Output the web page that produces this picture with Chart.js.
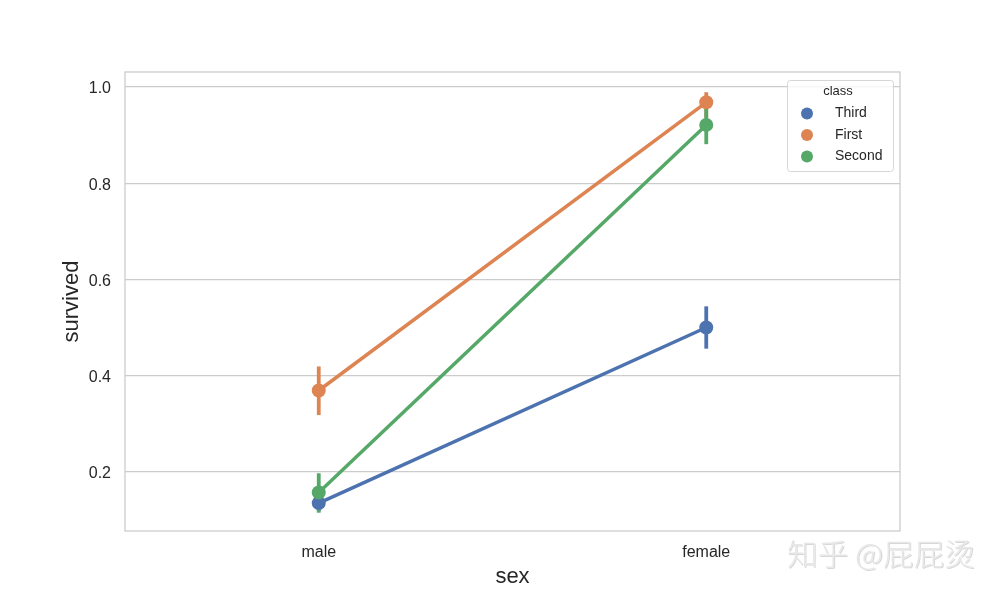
<!DOCTYPE html>
<html>
<head>
<meta charset="utf-8">
<script src="https://cdn.jsdelivr.net/npm/chart.js@4.4.0/dist/chart.umd.min.js"></script>
<style>
  html, body { margin: 0; padding: 0; background: #ffffff; }
  #wrap { width: 1000px; height: 597px; }
</style>
</head>
<body>
<div id="wrap"><canvas id="c" width="1000" height="597"></canvas></div>
<script>
// Survival rate by sex, split by passenger class (mean with 95% CI)
const categories = ['male', 'female'];
const classNames = ['Third', 'First', 'Second'];
const thirdMean  = [0.135, 0.500];
const firstMean  = [0.369, 0.968];
const secondMean = [0.157, 0.921];
const thirdLow   = [0.118, 0.456];
const thirdHigh  = [0.165, 0.544];
const firstLow   = [0.318, 0.936];
const firstHigh  = [0.419, 0.989];
const secondLow  = [0.115, 0.881];
const secondHigh = [0.197, 0.961];
const yTicks = [0.2, 0.4, 0.6, 0.8, 1.0];

const palette = ['#4c72b0', '#dd8452', '#55a868'];
const means = [thirdMean, firstMean, secondMean];
const lows  = [thirdLow, firstLow, secondLow];
const highs = [thirdHigh, firstHigh, secondHigh];

const FONT = "'Liberation Sans', Arial, sans-serif";
const TEXT = '#262626';

const datasets = classNames.map((name, i) => ({
  label: name,
  data: means[i],
  ciLow: lows[i],
  ciHigh: highs[i],
  borderColor: palette[i],
  backgroundColor: palette[i],
  pointBackgroundColor: palette[i],
  pointBorderColor: palette[i],
  pointRadius: 7,
  pointBorderWidth: 0,
  borderWidth: 3.5,
  tension: 0,
  order: classNames.length - i
}));

// confidence-interval bars, drawn under lines and markers
const errorBars = {
  id: 'errorBars',
  beforeDatasetsDraw(chart) {
    const ctx = chart.ctx;
    const xs = chart.scales.x, ys = chart.scales.y;
    ctx.save();
    chart.data.datasets.forEach(ds => {
      ctx.strokeStyle = ds.borderColor;
      ctx.lineWidth = 3.8;
      ctx.lineCap = 'butt';
      ds.data.forEach((v, j) => {
        const x = xs.getPixelForValue(j);
        ctx.beginPath();
        ctx.moveTo(x, ys.getPixelForValue(ds.ciLow[j]));
        ctx.lineTo(x, ys.getPixelForValue(ds.ciHigh[j]));
        ctx.stroke();
      });
    });
    ctx.restore();
  }
};

// frame around the plotting area
const frame = {
  id: 'frame',
  afterDatasetsDraw(chart) {
    const { ctx, chartArea: a } = chart;
    ctx.save();
    ctx.strokeStyle = '#cccccc';
    ctx.lineWidth = 1.3;
    ctx.strokeRect(a.left, a.top, a.right - a.left, a.bottom - a.top);
    ctx.restore();
  }
};

// legend box inside the plot, upper right
const legendBox = {
  id: 'legendBox',
  afterDraw(chart) {
    const ctx = chart.ctx;
    const bx = 787, by = 80, bw = 106, bh = 91;
    ctx.save();
    ctx.fillStyle = 'rgba(255,255,255,0.8)';
    ctx.strokeStyle = '#d6d6d6';
    ctx.lineWidth = 1;
    ctx.beginPath();
    ctx.roundRect(bx + 0.5, by + 0.5, bw, bh, 3);
    ctx.fill();
    ctx.stroke();
    ctx.fillStyle = TEXT;
    ctx.textBaseline = 'middle';
    ctx.textAlign = 'center';
    ctx.font = `13px ${FONT}`;
    ctx.fillText('class', 838, 91.5);
    ctx.textAlign = 'left';
    ctx.font = `14px ${FONT}`;
    chart.data.datasets.forEach((ds, i) => {
      const y = 113.5 + i * 21.5;
      ctx.fillStyle = ds.borderColor;
      ctx.beginPath();
      ctx.arc(807, y, 6, 0, Math.PI * 2);
      ctx.fill();
      ctx.fillStyle = TEXT;
      ctx.fillText(ds.label, 835, y);
    });
    ctx.restore();
  }
};

// site watermark
const watermark = {
  id: 'watermark',
  afterDraw(chart) {
    const ctx = chart.ctx;
    ctx.save();
    ctx.font = "300 30px 'Noto Sans CJK SC', sans-serif";
    ctx.textBaseline = 'middle';
    ctx.textAlign = 'left';
    const txt = '知乎 @屁屁烫';
    const w = ctx.measureText(txt).width;
    const sx = 188 / w;
    ctx.translate(787, 554);
    ctx.scale(sx, 1);
    ctx.fillStyle = 'rgba(140,140,140,0.35)';
    ctx.fillText(txt, 1, 1);
    ctx.fillStyle = 'rgba(255,255,255,1)';
    ctx.fillText(txt, 0, 0);
    ctx.fillStyle = 'rgba(215,215,215,0.6)';
    ctx.fillText(txt, 0, 0);
    ctx.restore();
  }
};

new Chart(document.getElementById('c'), {
  type: 'line',
  data: { labels: categories, datasets },
  plugins: [errorBars, frame, legendBox, watermark],
  options: {
    responsive: false,
    animation: false,
    devicePixelRatio: 1,
    layout: { padding: { left: 55, right: 100, top: 72, bottom: 3 } },
    plugins: { legend: { display: false }, tooltip: { enabled: false } },
    scales: {
      x: {
        type: 'category',
        offset: true,
        grid: { display: false, drawTicks: false },
        border: { display: false },
        ticks: { color: TEXT, font: { family: FONT, size: 16 }, padding: 12 },
        title: { display: true, text: 'sex', color: TEXT, font: { family: FONT, size: 22 }, padding: { top: 4, bottom: 4 } },
        afterFit(scale) { scale.height = 63; }
      },
      y: {
        min: 0.077,
        max: 1.031,
        grid: { color: '#cccccc', lineWidth: 1.2, drawTicks: false },
        border: { display: false },
        ticks: { color: TEXT, font: { family: FONT, size: 16 }, padding: 14, labelOffset: 2,
                 callback: v => v.toFixed(1) },
        afterBuildTicks(scale) { scale.ticks = yTicks.map(v => ({ value: v })); },
        title: { display: true, text: 'survived', color: TEXT, font: { family: FONT, size: 22 }, padding: { top: 4, bottom: 4 } },
        afterFit(scale) { scale.width = 70; }
      }
    }
  }
});
</script>
</body>
</html>
